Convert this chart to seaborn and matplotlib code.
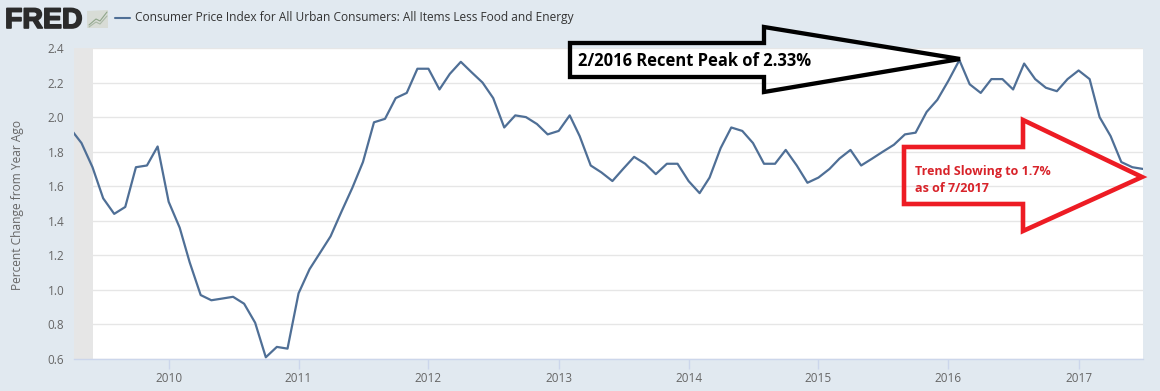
import seaborn as sns
import matplotlib.pyplot as plt
import matplotlib.dates as mdates
import matplotlib.patheffects as pe
from matplotlib.font_manager import FontProperties
from matplotlib.patches import Polygon
import pandas as pd

# monthly values, Apr 2009 - Jul 2017
dates = pd.date_range('2009-04-01', '2017-07-01', freq='MS')
v2009 = [1.93, 1.85, 1.71, 1.53, 1.44, 1.48, 1.71, 1.72, 1.83]
v2010 = [1.51, 1.36, 1.16, 0.97, 0.94, 0.95, 0.96, 0.92, 0.81, 0.61, 0.67, 0.66]
v2011 = [0.98, 1.12, 1.21, 1.31, 1.45, 1.59, 1.74, 1.97, 1.99, 2.11, 2.14, 2.28]
v2012 = [2.28, 2.16, 2.25, 2.32, 2.26, 2.20, 2.11, 1.94, 2.01, 2.00, 1.96, 1.90]
v2013 = [1.92, 2.01, 1.89, 1.72, 1.68, 1.63, 1.70, 1.77, 1.73, 1.67, 1.73, 1.73]
v2014 = [1.63, 1.56, 1.65, 1.82, 1.94, 1.92, 1.85, 1.73, 1.73, 1.81, 1.72, 1.62]
v2015 = [1.65, 1.70, 1.76, 1.81, 1.72, 1.76, 1.80, 1.84, 1.90, 1.91, 2.03, 2.10]
v2016 = [2.21, 2.33, 2.19, 2.14, 2.22, 2.22, 2.16, 2.31, 2.22, 2.17, 2.15, 2.22]
v2017 = [2.27, 2.22, 2.00, 1.89, 1.74, 1.71, 1.70]
values = v2009 + v2010 + v2011 + v2012 + v2013 + v2014 + v2015 + v2016 + v2017
df = pd.DataFrame({'date': dates, 'pct': values})

yticks = [0.6, 0.8, 1.0, 1.2, 1.4, 1.6, 1.8, 2.0, 2.2, 2.4]
title = 'Consumer Price Index for All Urban Consumers: All Items Less Food and Energy'

W, H = 1160, 391
BG = '#e1e9f0'
LINE = '#4f6f96'
GREY = '#666666'

sns.set_theme(style='white')
plt.rcParams['font.family'] = ['Open Sans', 'DejaVu Sans']

fig = plt.figure(figsize=(W / 100, H / 100), dpi=100, facecolor=BG)
ax = fig.add_axes([74 / W, 1 - 359 / H, (1143 - 74) / W, (359 - 48) / H])

ax.axvspan(pd.Timestamp('2009-04-01'), pd.Timestamp('2009-06-01'), color='#e6e6e6', lw=0, zorder=1)
sns.lineplot(data=df, x='date', y='pct', color=LINE, lw=1.6, ax=ax, zorder=3)

ax.set_xlim(pd.Timestamp('2009-04-10'), pd.Timestamp('2017-07-01'))
ax.set_ylim(0.6, 2.4)
ax.set_yticks(yticks)
ax.set_yticklabels([f'{t:.1f}' for t in yticks])
ax.xaxis.set_major_locator(mdates.YearLocator())
ax.xaxis.set_major_formatter(mdates.DateFormatter('%Y'))
ax.tick_params(axis='y', labelsize=8.5, labelcolor=GREY, length=0, pad=7)
ax.tick_params(axis='x', labelsize=8.5, labelcolor=GREY, length=7, width=1, color='#ccd6eb', pad=2, bottom=True)
ax.grid(axis='y', color='#e6e6e6', lw=1)
ax.set_axisbelow(True)
ax.set_xlabel('')
ax.set_ylabel('')
for s in ['top', 'left', 'right']:
    ax.spines[s].set_visible(False)
ax.spines['bottom'].set_color('#ccd6eb')
ax.spines['bottom'].set_linewidth(1)


def px(x, y):
    return (x / W, 1 - y / H)


fig.text(*px(18, 205), 'Percent Change from Year Ago', rotation=90, ha='center', va='center',
         fontsize=8.6, color=GREY)

# logo and legend
logo_font = FontProperties(family='Liberation Sans', weight='bold', size=20.5)
fig.text(*px(5, 28), 'FRED', fontproperties=logo_font, color='#2b2b2b', ha='left', va='baseline',
         path_effects=[pe.withStroke(linewidth=1.2, foreground='#2b2b2b')])
fig.add_artist(Polygon([px(87, 28), px(87, 11), px(108, 10), px(108, 28)],
                       closed=True, transform=fig.transFigure, fc='#d8dcd6', ec='none'))
for ys, col in [([25, 19, 21, 12], '#8fa58a'), ([27, 22, 24, 16], '#a9b8a5')]:
    fig.add_artist(plt.Line2D([x / W for x in [89, 96, 100, 107]], [1 - y / H for y in ys],
                              transform=fig.transFigure, color=col, lw=0.8))
fig.add_artist(plt.Line2D([115 / W, 130 / W], [1 - 18 / H] * 2, transform=fig.transFigure, color=LINE, lw=1.5))
fig.text(*px(135, 18), title, fontsize=8.6, color='#333333', ha='left', va='center')

# hand drawn arrows on top, outline only
black = [(570, 43), (764, 43), (764, 27), (960, 59), (764, 92), (764, 77), (570, 77)]
red = [(904, 147), (1023, 147), (1023, 120), (1142, 177), (1023, 231), (1023, 204), (904, 204)]
fig.add_artist(Polygon([px(*p) for p in black], closed=True, transform=fig.transFigure,
                       fc='none', ec='black', lw=3.1, joinstyle='miter', zorder=5))
fig.add_artist(Polygon([px(*p) for p in red], closed=True, transform=fig.transFigure,
                       fc='none', ec='#ed1c24', lw=3.3, joinstyle='miter', zorder=5))
fig.text(*px(578, 61), '2/2016 Recent Peak of 2.33%', fontsize=11.9, fontweight='bold', color='black',
         ha='left', va='center', zorder=6)
fig.text(*px(915, 171), 'Trend Slowing to 1.7%', fontsize=9, fontweight='bold', color='#d8232a',
         ha='left', va='center', zorder=6)
fig.text(*px(915, 188), 'as of 7/2017', fontsize=9, fontweight='bold', color='#d8232a',
         ha='left', va='center', zorder=6)

fig.savefig('out.png', dpi=100, facecolor=BG)
